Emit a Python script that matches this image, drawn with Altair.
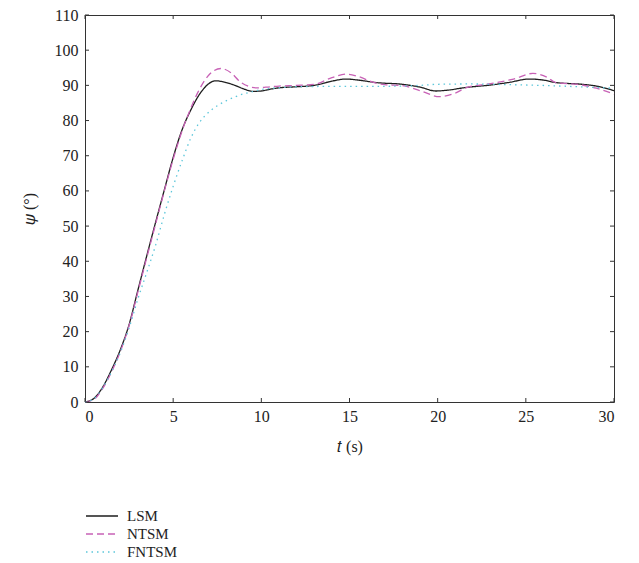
import altair as alt
import pandas as pd

# ---- data ----
series_names = ["LSM", "NTSM", "FNTSM"]

lsm_t = [0, 0.5, 1.0, 1.5, 2.0, 2.5, 3.0, 3.5, 4.0, 4.5, 5.0, 5.5, 6.0, 6.5, 7.0, 7.4, 8.0, 8.5,
         9.0, 9.5, 10.0, 10.5, 11.0, 12.0, 13.0, 14.0, 14.8, 15.5, 16.5, 18.0, 19.0, 19.9, 20.5,
         21.6, 23.0, 24.0, 25.2, 26.0, 26.7, 28.2, 29.0, 30.0]
lsm_v = [0, 1.0, 4.2, 9.1, 14.8, 22.0, 31.8, 41.5, 51.0, 60.3, 69.5, 77.3, 83.0, 87.5, 90.4, 91.3,
         90.8, 90.0, 89.0, 88.3, 88.4, 88.9, 89.3, 89.6, 90.0, 91.2, 91.8, 91.5, 90.8, 90.3, 89.5,
         88.4, 88.6, 89.4, 90.1, 90.8, 91.8, 91.5, 90.8, 90.3, 89.8, 88.5]

ntsm_t = [0, 0.5, 1.0, 1.5, 2.0, 2.5, 3.0, 3.5, 4.0, 4.5, 5.0, 5.5, 6.0, 6.4, 7.0, 7.7, 8.3, 8.8,
          9.3, 9.75, 10.5, 11.0, 12.0, 13.0, 14.0, 14.8, 15.5, 16.4, 17.0, 18.0, 19.0, 20.1, 21.0,
          21.6, 23.0, 24.3, 25.4, 26.2, 26.7, 28.2, 29.0, 30.0]
ntsm_v = [0, 0.7, 3.8, 8.5, 14.3, 21.7, 31.3, 41.0, 50.5, 60.0, 69.0, 77.0, 83.5, 88.0, 92.8, 94.8,
          93.5, 91.0, 89.7, 89.3, 89.6, 89.8, 90.0, 90.3, 92.2, 93.2, 92.5, 90.8, 90.2, 89.9, 88.5,
          86.8, 87.8, 89.3, 90.5, 91.8, 93.4, 92.3, 90.8, 90.1, 89.2, 87.5]

fntsm_t = [0, 0.5, 1.0, 1.5, 2.0, 2.5, 3.0, 3.5, 4.0, 4.5, 5.0, 5.5, 6.0, 6.5, 7.0, 7.5, 8.0, 8.5,
           9.0, 9.5, 10.0, 11.0, 12.0, 14.0, 16.0, 18.0, 19.0, 20.0, 22.0, 23.0, 25.0, 27.0, 28.0, 30.0]
fntsm_v = [0, 0.9, 4.0, 8.5, 14.0, 21.0, 29.3, 36.8, 44.5, 53.3, 61.3, 68.5, 75.0, 79.5, 82.3, 84.2,
           85.6, 86.7, 87.6, 88.2, 88.8, 89.3, 89.6, 89.7, 89.7, 89.8, 90.0, 90.3, 90.4, 90.3, 90.1,
           89.8, 89.6, 89.2]

x_ticks = [0, 5, 10, 15, 20, 25, 30]
y_ticks = [0, 10, 20, 30, 40, 50, 60, 70, 80, 90, 100, 110]

series_colors = ["#1e1e1e", "#c862b6", "#5cc6da"]
series_dashes = [[1, 0], [7, 4], [1.5, 4]]

df = pd.concat([
    pd.DataFrame({"t": lsm_t, "psi": lsm_v, "series": "LSM"}),
    pd.DataFrame({"t": ntsm_t, "psi": ntsm_v, "series": "NTSM"}),
    pd.DataFrame({"t": fntsm_t, "psi": fntsm_v, "series": "FNTSM"}),
], ignore_index=True)

xt_df = pd.DataFrame({"t": x_ticks})
yt_df = pd.DataFrame({"psi": y_ticks})

W, H = 529, 387
FONT = "Liberation Serif"

x_scale = alt.Scale(domain=[0, 30], nice=False, zero=False)
y_scale = alt.Scale(domain=[0, 110], nice=False)
axis_text = dict(labelFont=FONT, labelFontSize=16, labelColor="#222",
                 titleFont=FONT, titleFontSize=16, titleFontWeight="normal", titleColor="#222")
x_axis = alt.Axis(title="𝑡 (s)", values=x_ticks, labelPadding=6, titlePadding=14, **axis_text)
y_axis = alt.Axis(title="𝜓 (°)", values=y_ticks, labelPadding=7, titlePadding=17, **axis_text)

legend = alt.Legend(
    title=None, orient="none", legendX=8, legendY=492, padding=0,
    symbolType="M-2,0H2", symbolSize=256, symbolStrokeWidth=1.3,
    labelFont=FONT, labelFontSize=15, labelColor="#222", labelOffset=16,
    rowPadding=1,
)

lines = alt.Chart(df).mark_line(interpolate="monotone", strokeWidth=1.3).encode(
    x=alt.X("t:Q", scale=x_scale, axis=x_axis),
    y=alt.Y("psi:Q", scale=y_scale, axis=y_axis),
    color=alt.Color("series:N", scale=alt.Scale(domain=series_names, range=series_colors), legend=legend),
    strokeDash=alt.StrokeDash("series:N", scale=alt.Scale(domain=series_names, range=series_dashes), legend=legend),
)

tick_style = dict(color="#333", strokeWidth=1)
bottom_ticks = alt.Chart(xt_df).mark_rule(**tick_style).encode(
    x=alt.X("t:Q", scale=x_scale, axis=x_axis), y=alt.value(H), y2=alt.value(H - 4))
top_ticks = alt.Chart(xt_df).mark_rule(**tick_style).encode(
    x=alt.X("t:Q", scale=x_scale, axis=x_axis), y=alt.value(0), y2=alt.value(4))
left_ticks = alt.Chart(yt_df).mark_rule(**tick_style).encode(
    y=alt.Y("psi:Q", scale=y_scale, axis=y_axis), x=alt.value(0), x2=alt.value(4))
right_ticks = alt.Chart(yt_df).mark_rule(**tick_style).encode(
    y=alt.Y("psi:Q", scale=y_scale, axis=y_axis), x=alt.value(W), x2=alt.value(W - 4))

chart = alt.layer(lines, bottom_ticks, top_ticks, left_ticks, right_ticks).properties(
    width=W, height=H,
    autosize=alt.AutoSizeParams(type="none"),
    padding={"left": 77, "top": 7, "right": 17, "bottom": 161},
).configure_view(
    stroke="#333", strokeWidth=1
).configure_axis(
    domain=False, ticks=False, grid=False, **axis_text
).configure_text(font=FONT)

chart.save("out.html", embed_options={"renderer": "svg", "actions": False})
